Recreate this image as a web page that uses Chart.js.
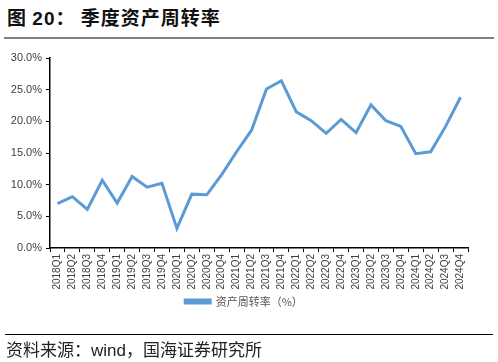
<!DOCTYPE html>
<html>
<head>
<meta charset="utf-8">
<script src="https://cdn.jsdelivr.net/npm/chart.js@4/dist/chart.umd.min.js"></script>
<style>
  html, body { margin: 0; padding: 0; background: #fff; }
  body { width: 498px; height: 362px; position: relative; overflow: hidden; font-family: "Noto Sans CJK SC", sans-serif; }
  #title { position: absolute; left: 7px; top: 3px; font-size: 19px; font-weight: bold; color: #111; letter-spacing: 1px; }
  #title .num { font-family: "Liberation Sans", Arial, sans-serif; }
  #topline { position: absolute; left: 4px; right: 4px; top: 37px; height: 2px; background: #7f7f7f; }
  #botline { position: absolute; left: 5px; right: 5px; top: 334px; height: 1px; background: #000; }
  #source { position: absolute; left: 6px; top: 336px; font-size: 17px; color: #222; }
  #source .en { font-family: "Liberation Sans", Arial, sans-serif; }
  #wrap { position: absolute; left: 0; top: 0; width: 498px; height: 362px; }
</style>
</head>
<body>
<div id="title">图 <span class="num">20</span>：&nbsp;季度资产周转率</div>
<div id="topline"></div>
<div id="wrap"><canvas id="myChart"></canvas></div>
<div id="botline"></div>
<div id="source">资料来源：<span class="en">wind</span>，国海证券研究所</div>
<script>
// quarters 2018Q1 .. 2024Q4
const quarters = ['2018Q1', '2018Q2', '2018Q3', '2018Q4', '2019Q1', '2019Q2', '2019Q3', '2019Q4',
    '2020Q1', '2020Q2', '2020Q3', '2020Q4', '2021Q1', '2021Q2', '2021Q3', '2021Q4',
    '2022Q1', '2022Q2', '2022Q3', '2022Q4', '2023Q1', '2023Q2', '2023Q3', '2023Q4',
    '2024Q1', '2024Q2', '2024Q3', '2024Q4'];
// asset turnover, %
const turnover = [7.0, 8.1, 6.1, 10.7, 7.1, 11.3, 9.6, 10.2,
    3.1, 8.5, 8.4, 11.6, 15.2, 18.6, 25.1, 26.4,
    21.5, 20.1, 18.1, 20.3, 18.2, 22.6, 20.1, 19.2,
    14.9, 15.2, 19.2, 23.8];
const yTicks = [0, 5, 10, 15, 20, 25, 30];
const seriesName = '资产周转率（%）';

// nudge the legend a bit to the right, like the original
const legendShift = {
    id: 'legendShift',
    afterLayout(chart) {
        chart.legend.left += 10;
        chart.legend.right += 10;
    }
};

var ctx = document.getElementById('myChart').getContext('2d');
const data = {
    labels: quarters,
    datasets: [{
        label: seriesName,
        data: turnover,
        borderColor: '#5b9bd5',
        backgroundColor: '#5b9bd5',
        borderWidth: 3,
        pointRadius: 0,
        tension: 0
    }]
};
const config = {
    type: 'line',
    data: data,
    plugins: [legendShift],
    options: {
        responsive: true,
        maintainAspectRatio: false,
        animation: false,
        layout: {
            padding: { top: 58, right: 30, bottom: 45, left: 0 }
        },
        plugins: {
            legend: {
                position: 'bottom',
                labels: {
                    boxWidth: 25,
                    boxHeight: 3,
                    padding: 6,
                    color: '#595959',
                    font: { family: 'Noto Sans CJK SC', size: 11 }
                }
            },
            tooltip: { enabled: false }
        },
        scales: {
            x: {
                offset: true,
                grid: {
                    offset: true,
                    drawOnChartArea: false,
                    drawTicks: true,
                    tickLength: 4,
                    color: '#000'
                },
                border: { color: '#000', width: 1.5 },
                ticks: {
                    autoSkip: false,
                    maxRotation: 90,
                    minRotation: 90,
                    color: '#404040',
                    padding: 2,
                    font: { family: 'Liberation Sans', size: 10 }
                },
                afterFit: function (scale) { scale.height = 42; }
            },
            y: {
                min: 0,
                max: 30,
                afterBuildTicks: function (scale) {
                    scale.ticks = yTicks.map(v => ({ value: v }));
                },
                grid: {
                    drawOnChartArea: false,
                    drawTicks: true,
                    tickLength: 4,
                    color: '#000'
                },
                border: { color: '#000', width: 1.5 },
                ticks: {
                    color: '#404040',
                    padding: 4,
                    font: { family: 'Liberation Sans', size: 11 },
                    callback: function (v) { return v.toFixed(1) + '%'; }
                },
                afterFit: function (scale) { scale.width = 50; }
            }
        }
    }
};
let myChart = new Chart(ctx, config);
</script>
</body>
</html>
